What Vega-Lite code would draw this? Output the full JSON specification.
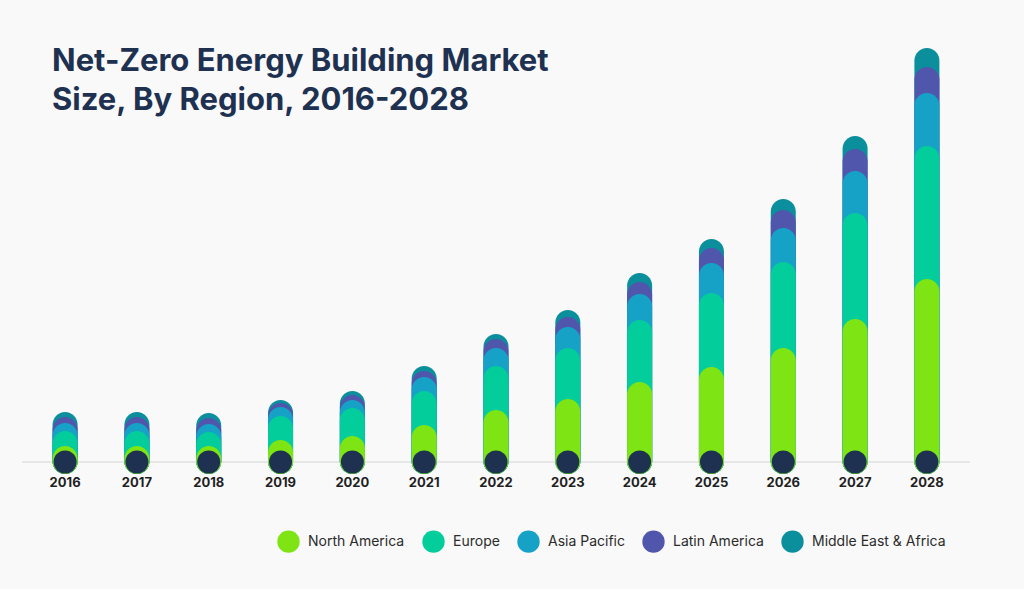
{
  "$schema": "https://vega.github.io/schema/vega-lite/v6.json",
  "autosize": {"type": "none"},
  "width": 948,
  "height": 420,
  "padding": {"left": 22, "top": 42, "right": 54, "bottom": 127},
  "background": "#f9f9f9",
  "config": {"view": {"stroke": null}},
  "title": {
    "text": ["Net-Zero Energy Building Market", "Size, By Region, 2016-2028"],
    "anchor": "start",
    "frame": "group",
    "orient": "top",
    "offset": 0,
    "dx": 30,
    "dy": 75,
    "font": "Inter",
    "fontSize": 31,
    "fontWeight": 700,
    "lineHeight": 39,
    "color": "#1e3151"
  },
  "data": {
    "values": [
      {"year": "2016", "region": "North America", "value": 4.0},
      {"year": "2016", "region": "Europe", "value": 3.75},
      {"year": "2016", "region": "Asia Pacific", "value": 2.0},
      {"year": "2016", "region": "Latin America", "value": 1.5},
      {"year": "2016", "region": "Middle East & Africa", "value": 1.25},
      {"year": "2017", "region": "North America", "value": 4.0},
      {"year": "2017", "region": "Europe", "value": 3.75},
      {"year": "2017", "region": "Asia Pacific", "value": 2.0},
      {"year": "2017", "region": "Latin America", "value": 1.5},
      {"year": "2017", "region": "Middle East & Africa", "value": 1.25},
      {"year": "2018", "region": "North America", "value": 4.0},
      {"year": "2018", "region": "Europe", "value": 3.5},
      {"year": "2018", "region": "Asia Pacific", "value": 2.0},
      {"year": "2018", "region": "Latin America", "value": 1.5},
      {"year": "2018", "region": "Middle East & Africa", "value": 1.25},
      {"year": "2019", "region": "North America", "value": 5.5},
      {"year": "2019", "region": "Europe", "value": 6.0},
      {"year": "2019", "region": "Asia Pacific", "value": 2.25},
      {"year": "2019", "region": "Latin America", "value": 1.0},
      {"year": "2019", "region": "Middle East & Africa", "value": 0.75},
      {"year": "2020", "region": "North America", "value": 6.5},
      {"year": "2020", "region": "Europe", "value": 7.0},
      {"year": "2020", "region": "Asia Pacific", "value": 2.0},
      {"year": "2020", "region": "Latin America", "value": 1.25},
      {"year": "2020", "region": "Middle East & Africa", "value": 1.0},
      {"year": "2021", "region": "North America", "value": 9.25},
      {"year": "2021", "region": "Europe", "value": 8.5},
      {"year": "2021", "region": "Asia Pacific", "value": 3.5},
      {"year": "2021", "region": "Latin America", "value": 1.5},
      {"year": "2021", "region": "Middle East & Africa", "value": 1.25},
      {"year": "2022", "region": "North America", "value": 13.0},
      {"year": "2022", "region": "Europe", "value": 11.0},
      {"year": "2022", "region": "Asia Pacific", "value": 4.5},
      {"year": "2022", "region": "Latin America", "value": 2.25},
      {"year": "2022", "region": "Middle East & Africa", "value": 1.25},
      {"year": "2023", "region": "North America", "value": 15.75},
      {"year": "2023", "region": "Europe", "value": 12.75},
      {"year": "2023", "region": "Asia Pacific", "value": 5.25},
      {"year": "2023", "region": "Latin America", "value": 2.5},
      {"year": "2023", "region": "Middle East & Africa", "value": 1.75},
      {"year": "2024", "region": "North America", "value": 20.0},
      {"year": "2024", "region": "Europe", "value": 15.5},
      {"year": "2024", "region": "Asia Pacific", "value": 6.5},
      {"year": "2024", "region": "Latin America", "value": 3.0},
      {"year": "2024", "region": "Middle East & Africa", "value": 2.25},
      {"year": "2025", "region": "North America", "value": 23.75},
      {"year": "2025", "region": "Europe", "value": 18.5},
      {"year": "2025", "region": "Asia Pacific", "value": 7.5},
      {"year": "2025", "region": "Latin America", "value": 3.75},
      {"year": "2025", "region": "Middle East & Africa", "value": 2.25},
      {"year": "2026", "region": "North America", "value": 28.5},
      {"year": "2026", "region": "Europe", "value": 21.5},
      {"year": "2026", "region": "Asia Pacific", "value": 8.5},
      {"year": "2026", "region": "Latin America", "value": 4.5},
      {"year": "2026", "region": "Middle East & Africa", "value": 2.75},
      {"year": "2027", "region": "North America", "value": 35.75},
      {"year": "2027", "region": "Europe", "value": 26.5},
      {"year": "2027", "region": "Asia Pacific", "value": 10.5},
      {"year": "2027", "region": "Latin America", "value": 5.5},
      {"year": "2027", "region": "Middle East & Africa", "value": 3.25},
      {"year": "2028", "region": "North America", "value": 45.75},
      {"year": "2028", "region": "Europe", "value": 33.25},
      {"year": "2028", "region": "Asia Pacific", "value": 13.25},
      {"year": "2028", "region": "Latin America", "value": 6.5},
      {"year": "2028", "region": "Middle East & Africa", "value": 4.75}
    ]
  },
  "encoding": {
    "x": {
      "field": "year",
      "type": "ordinal",
      "scale": {"paddingInner": 0, "paddingOuter": 0.1},
      "axis": {
        "title": null,
        "domain": false,
        "ticks": false,
        "labelAngle": 0,
        "labelPadding": 14,
        "labelFont": "Inter",
        "labelFontSize": 13,
        "labelFontWeight": 700,
        "labelColor": "#1f1f1f"
      }
    }
  },
  "layer": [
    {
      "mark": {"type": "rule", "color": "#e6e6e6", "strokeWidth": 2},
      "encoding": {
        "x": null,
        "y": {"datum": 0, "type": "quantitative", "scale": {"domain": [0, 105], "nice": false}, "axis": null}
      }
    },
    {
      "transform": [
        {"stack": "value", "groupby": ["year"], "as": ["v0", "v1"]}
      ],
      "mark": {"type": "bar", "width": 25, "cornerRadius": 12.5},
      "encoding": {
        "y": {"field": "v1", "type": "quantitative", "stack": null, "scale": {"domain": [0, 105], "nice": false}, "axis": null},
        "y2": {"datum": -3},
        "order": {"field": "v1", "sort": "descending"},
        "color": {
          "field": "region",
          "type": "nominal",
          "scale": {
            "domain": ["North America", "Europe", "Asia Pacific", "Latin America", "Middle East & Africa"],
            "range": ["#7fe414", "#02cd9b", "#15a2c6", "#5156ad", "#0b8f9d"]
          },
          "legend": {
            "title": null,
            "orient": "none",
            "direction": "horizontal",
            "legendX": 255,
            "legendY": 488,
            "symbolType": "circle",
            "symbolSize": 500,
            "symbolOpacity": 1,
            "symbolStrokeWidth": 0,
            "labelFont": "Inter",
            "labelFontSize": 14,
            "labelColor": "#2b2b2b",
            "labelOffset": 8,
            "columnPadding": 17
          }
        }
      }
    },
    {
      "transform": [{"filter": "datum.region === 'North America'"}],
      "mark": {"type": "point", "shape": "circle", "filled": true, "opacity": 1, "color": "#1e3151", "size": 529},
      "encoding": {
        "y": {"datum": 0, "type": "quantitative", "scale": {"domain": [0, 105], "nice": false}, "axis": null}
      }
    }
  ]
}
